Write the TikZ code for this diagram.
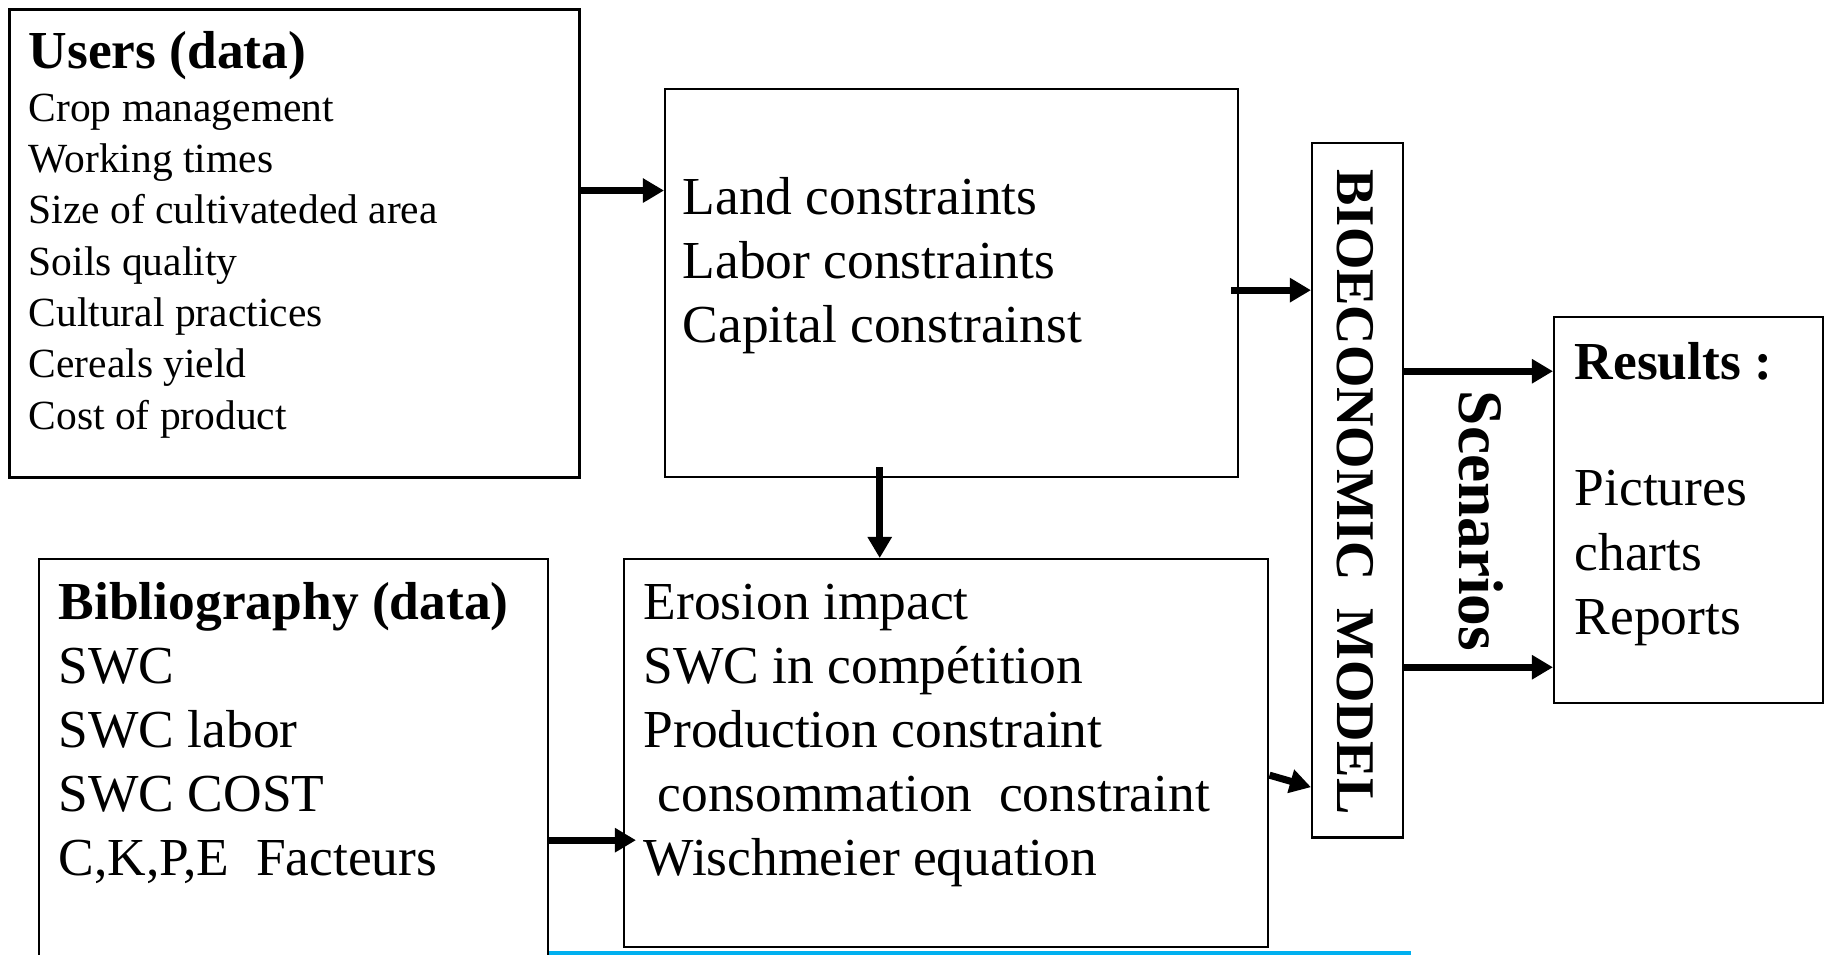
\documentclass[tikz,border=0pt]{standalone}
\usepackage{fontspec}
\setmainfont{Liberation Serif}
\usepackage{tikz}
\usetikzlibrary{calc,arrows.meta}

\begin{document}
\begin{tikzpicture}[x=0.01cm,y=-0.01cm,
    box/.style={draw, line width=0.6pt, anchor=north west, inner sep=0pt},
    txt/.style={anchor=base west, inner sep=0pt, font=\fontsize{15.2}{18}\selectfont},
    smalltxt/.style={anchor=base west, inner sep=0pt, font=\fontsize{11.8}{14}\selectfont},
    arr/.style={-{Triangle[length=6pt,width=6.6pt]}, line width=2pt}]
        \useasboundingbox (0,0) rectangle (1826,955);
        \clip (0,0) rectangle (1826,955);
        \node[box, line width=0.8pt, minimum width=5.70cm, minimum height=4.68cm] (users) at (8,8) {};
        \node[box, minimum width=5.73cm, minimum height=3.88cm] (cons) at (664,88) {};
        \node[box, minimum width=0.91cm, minimum height=6.94cm] (bio) at (1311,142) {};
        \node[box, minimum width=2.69cm, minimum height=3.86cm] (res) at (1553,316) {};
        \node[box, minimum width=5.09cm, minimum height=4.60cm] (bib) at (38,558) {};
        \node[box, minimum width=6.44cm, minimum height=3.88cm] (ero) at (623,558) {};
        \node[txt, font=\fontsize{15.2}{18}\selectfont\bfseries] (ut) at (28,69) {Users (data)};
        \foreach \txt [count=\i] in {Crop management, Working times, Size of cultivateded area, Soils quality, Cultural practices, Cereals yield, Cost of product}{
        \node[smalltxt] (u\i) at (28,{70+51.3*\i}) {\txt};
        }
        \foreach \txt [count=\i] in {Land constraints, Labor constraints, Capital constrainst}{
        \node[txt] (c\i) at (682,{151+64*\i}) {\txt};
        }
        \node[txt, font=\fontsize{15.2}{18}\selectfont\bfseries] (bt) at (58,620) {Bibliography (data)};
        \foreach \txt [count=\i] in {SWC, SWC labor, SWC COST, {C,K,P,E\ \ Facteurs}}{
        \node[txt] (b\i) at (58,{620+64*\i}) {\txt};
        }
        \node[txt] (e1) at (643,620) {Erosion impact};
        \node[txt] (e2) at (643,684) {SWC in compétition};
        \node[txt] (e3) at (643,748) {Production constraint};
        \node[txt] (e4) at (657,812) {consommation\ \ constraint};
        \node[txt] (e5) at (643,876) {Wischmeier equation};
        \node[txt, font=\fontsize{15.2}{18}\selectfont\bfseries] (rt) at (1574,380) {Results :};
        \node[txt] (r1) at (1574,506) {Pictures};
        \node[txt] (r2) at (1574,571) {charts};
        \node[txt] (r3) at (1574,635) {Reports};
        \node[rotate=-90, inner sep=0pt, font=\fontsize{15.5}{18}\selectfont\bfseries] (biot) at (1355,492) {BIOECONOMIC\ \ MODEL};
        \node[rotate=-90, inner sep=0pt, font=\fontsize{18}{20}\selectfont\bfseries] (scen) at (1481,521) {Scenarios};
        \draw[arr] ($(users.east)+(0,-53)$) coordinate (a1) -- (a1 -| cons.west);
        \draw[arr] ($(cons.east)+(-8,7)$) coordinate (a2) -- (a2 -| bio.west);
        \draw[arr] ($(cons.south)+(-72,-11)$) coordinate (a3) -- (a3 |- ero.north);
        \draw[arr] ($(bio.east)+(0,-119)$) coordinate (a4) -- (a4 -| res.west);
        \draw[arr] ($(bio.east)+(0,177)$) coordinate (a5) -- (a5 -| res.west);
        \draw[arr] ($(bib.east)+(0,51)$) coordinate (a6) -- ($(a6 -| ero.west)+(13,0)$);
        \draw[arr] ($(ero.east)+(0,22)$) -- ($(ero.east -| bio.west)+(0,34)$);
        \draw[line width=1.2pt, color={rgb,255:red,0;green,176;blue,240}] (bib.east |- 0,953) -- (1411,953);
    \end{tikzpicture}
\end{document}
